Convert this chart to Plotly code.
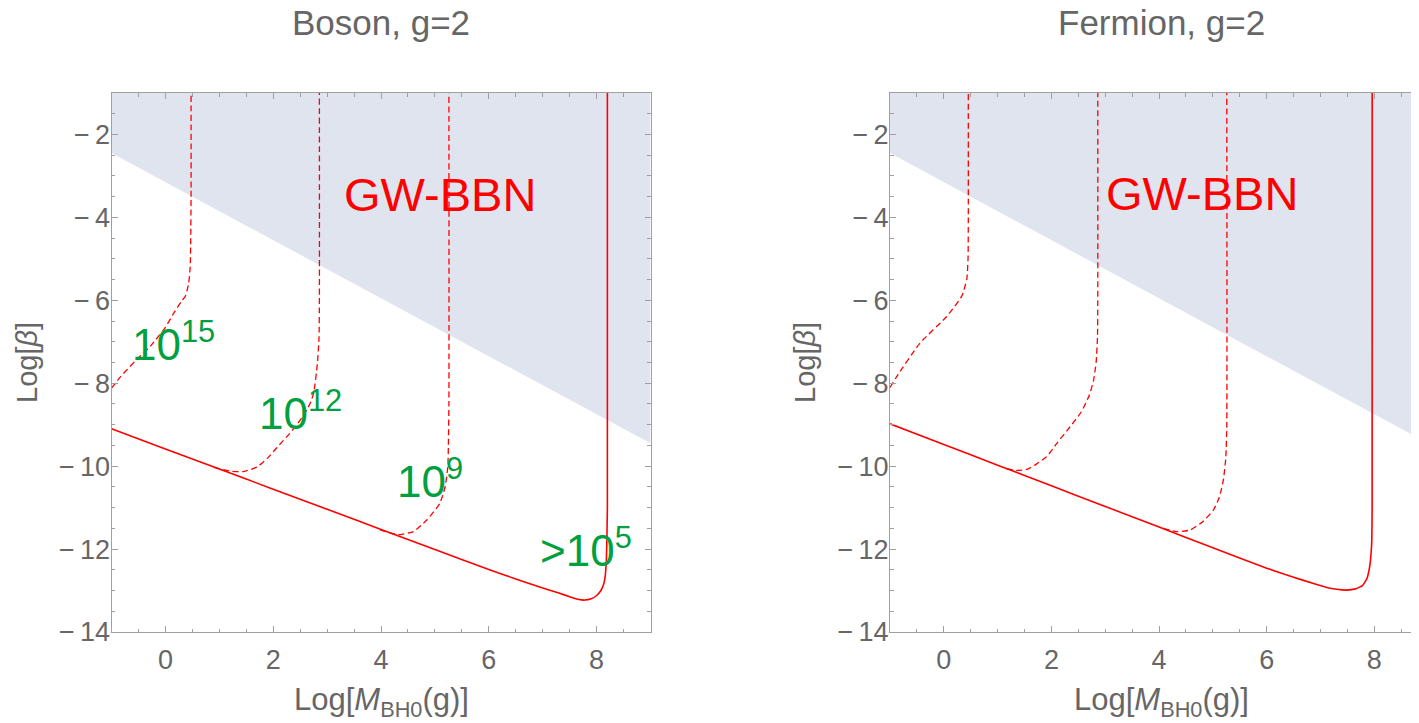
import plotly.graph_objects as go

# ---------------- data ----------------
panel_titles = ["Boson, g=2", "Fermion, g=2"]

# excluded GW-BBN region boundary (Log[M], Log[beta])
gw_x = [-1, 9]
gw_y = [-2.45, -9.45]
y_top = -1

# Boson, g=2
boson_solid_x = [-1, 0, 1, 2, 3, 4, 5, 6, 6.5, 7.0, 7.3, 7.5, 7.65, 7.78, 7.9, 8.0, 8.08, 8.13, 8.16, 8.18, 8.19, 8.2, 8.2]
boson_solid_y = [-9.1, -9.585, -10.07, -10.555, -11.04, -11.525, -12.01, -12.495, -12.72, -12.94, -13.06, -13.15,
                 -13.21, -13.23, -13.2, -13.12, -13.0, -12.85, -12.65, -12.3, -11.8, -11.0, -1]
boson_1e15_x = [-1, -0.83, -0.55, -0.28, 0.0, 0.154, 0.3, 0.37, 0.43, 0.46, 0.47, 0.476, 0.476]
boson_1e15_y = [-8.12, -7.84, -7.45, -7.11, -6.65, -6.31, -6.02, -5.9, -5.6, -5.2, -4.5, -3.5, -1]
boson_1e12_x = [0.9, 1.2, 1.45, 1.7, 1.9, 2.07, 2.3, 2.53, 2.68, 2.75, 2.82, 2.85, 2.857, 2.857]
boson_1e12_y = [-10.03, -10.12, -10.13, -10.02, -9.8, -9.55, -9.22, -8.84, -8.5, -8.24, -7.52, -6.9, -6.0, -1]
boson_1e9_x = [3.98, 4.2, 4.35, 4.6, 4.85, 5.09, 5.19, 5.24, 5.25, 5.26, 5.26]
boson_1e9_y = [-11.54, -11.62, -11.65, -11.58, -11.3, -10.9, -10.5, -10.0, -9.5, -8.5, -1]

# Fermion, g=2
fermion_solid_x = [-1, 0, 1, 2, 3, 4, 5, 6, 6.5, 6.87, 7.1, 7.3, 7.49, 7.65, 7.78, 7.86, 7.91, 7.94, 7.953, 7.959, 7.96]
fermion_solid_y = [-8.98, -9.478, -9.976, -10.474, -10.972, -11.47, -11.97, -12.46, -12.68, -12.83, -12.92, -12.97,
                   -12.99, -12.96, -12.88, -12.72, -12.45, -12.1, -11.78, -11.0, -1]
fermion_1e15_x = [-1, -0.875, -0.442, 0.054, 0.333, 0.426, 0.45, 0.455, 0.455]
fermion_1e15_y = [-8.1, -7.84, -7.03, -6.39, -5.9, -5.5, -5.0, -4.0, -1]
fermion_1e12_x = [1.169, 1.35, 1.541, 1.72, 1.913, 2.1, 2.346, 2.55, 2.7, 2.78, 2.83, 2.855, 2.861, 2.861]
fermion_1e12_y = [-10.06, -10.1, -10.08, -9.95, -9.77, -9.45, -9.05, -8.7, -8.3, -7.95, -7.5, -6.9, -6.0, -1]
fermion_1e9_x = [4.08, 4.329, 4.576, 4.8, 5.009, 5.12, 5.195, 5.24, 5.258, 5.258]
fermion_1e9_y = [-11.5, -11.58, -11.54, -11.35, -11.06, -10.75, -10.33, -9.8, -9.0, -1]

# labels
boson_labels = ["10<sup>15</sup>", "10<sup>12</sup>", "10<sup>9</sup>", ">10<sup>5</sup>"]
boson_label_x = [0.15, 2.5, 4.9, 7.81]
boson_label_y = [-7.0, -8.65, -10.3, -11.95]
gw_label = "GW-BBN"
gw_label_pos = [(5.1, -3.45), (4.8, -3.42)]

x_ranges = [[-1, 9], [-1, 8.83]]
y_range = [-14, -1]
x_tickvals = [0, 2, 4, 6, 8]
y_tickvals = [-14, -12, -10, -8, -6, -4, -2]

# ---------------- styling ----------------
RED = "#ff0000"
GREEN = "#00a040"
SHADE = "#dfe4ef"
FRAME = "#a0a0a0"
TXT = "#666666"
FONT = "Liberation Sans, Arial, sans-serif"
DASH = "6px,3.5px"

# page body has an 8px margin: work in screen pixels and shift
OFF = 8
W, H = 1419 - OFF, 723 - OFF
PLOT_TOP, PLOT_BOT = 93, 632          # screen px
PLOT_H = PLOT_BOT - PLOT_TOP


def px_x(sx):
    return (sx - OFF) / W


def px_y(sy):
    return (PLOT_BOT - sy) / PLOT_H


fig = go.Figure()


def add_panel(xa, ya, solid_x, solid_y, dashed):
    fig.add_trace(go.Scatter(
        x=[gw_x[0], gw_x[1], gw_x[1], gw_x[0]],
        y=[gw_y[0], gw_y[1], y_top, y_top],
        fill="toself", fillcolor=SHADE, mode="none",
        xaxis=xa, yaxis=ya, showlegend=False, hoverinfo="skip"))
    for dx, dy in dashed:
        fig.add_trace(go.Scatter(x=dx, y=dy, mode="lines",
                                 line=dict(color=RED, width=1.3, dash=DASH, shape="spline", smoothing=0.5),
                                 xaxis=xa, yaxis=ya, showlegend=False))
    fig.add_trace(go.Scatter(x=solid_x, y=solid_y, mode="lines",
                             line=dict(color=RED, width=1.6, shape="spline", smoothing=0.4),
                             xaxis=xa, yaxis=ya, showlegend=False))


add_panel("x", "y", boson_solid_x, boson_solid_y,
          [(boson_1e15_x, boson_1e15_y), (boson_1e12_x, boson_1e12_y), (boson_1e9_x, boson_1e9_y)])
add_panel("x2", "y2", fermion_solid_x, fermion_solid_y,
          [(fermion_1e15_x, fermion_1e15_y), (fermion_1e12_x, fermion_1e12_y), (fermion_1e9_x, fermion_1e9_y)])

L_DOM = [px_x(111.5), px_x(650.5)]
R_DOM = [px_x(890), 1.0]


def minus(v):
    return ("\u2212\u2009" + str(-v)) if v < 0 else str(v)


def xaxis(domain, rng, anchor):
    return dict(domain=domain, range=rng, anchor=anchor, showgrid=False, zeroline=False,
                showline=True, linecolor=FRAME, linewidth=1, mirror="allticks",
                ticks="inside", ticklen=6, tickcolor=FRAME, tickwidth=1,
                tickmode="array", tickvals=x_tickvals, ticktext=[minus(v) for v in x_tickvals],
                minor=dict(dtick=0.5, tick0=0, ticks="inside", ticklen=3.5, tickcolor=FRAME, tickwidth=1),
                tickfont=dict(family=FONT, size=27, color=TXT), ticklabelstandoff=4)


def yaxis(anchor, mirror):
    return dict(domain=[0, 1], range=y_range, anchor=anchor, showgrid=False, zeroline=False,
                showline=True, linecolor=FRAME, linewidth=1, mirror=mirror,
                ticks="inside", ticklen=6, tickcolor=FRAME, tickwidth=1,
                tickmode="array", tickvals=y_tickvals, ticktext=[minus(v) for v in y_tickvals],
                minor=dict(dtick=0.5, tick0=0, ticks="inside", ticklen=3.5, tickcolor=FRAME, tickwidth=1),
                tickfont=dict(family=FONT, size=27, color=TXT), ticklabelstandoff=-5)


annotations = []
title_cx = [381, 1161]
ytitle_cx = [27, 805]
for i, t in enumerate(panel_titles):
    annotations.append(dict(text=t, xref="paper", yref="paper",
                            x=px_x(title_cx[i]), y=px_y(22), xanchor="center", yanchor="middle",
                            showarrow=False, font=dict(family=FONT, size=35, color=TXT)))
    annotations.append(dict(text="Log[<i>M</i><sub>BH0</sub>(g)]", xref="paper", yref="paper",
                            x=px_x(title_cx[i]), y=px_y(702), xanchor="center", yanchor="middle",
                            showarrow=False, font=dict(family=FONT, size=31, color=TXT)))
    annotations.append(dict(text="Log[<i>\u03b2</i>]", xref="paper", yref="paper",
                            x=px_x(ytitle_cx[i]), y=px_y(363), xanchor="center", yanchor="middle",
                            textangle=-90, showarrow=False, font=dict(family=FONT, size=29, color=TXT)))

for i, (gx, gy) in enumerate(gw_label_pos):
    annotations.append(dict(text=gw_label, x=gx, y=gy, xref=["x", "x2"][i], yref=["y", "y2"][i],
                            showarrow=False, xanchor="center", yanchor="middle",
                            font=dict(family=FONT, size=47, color=RED)))

for lab, lx, ly in zip(boson_labels, boson_label_x, boson_label_y):
    annotations.append(dict(text=lab, x=lx, y=ly, xref="x", yref="y", showarrow=False,
                            xanchor="center", yanchor="middle",
                            font=dict(family=FONT, size=44, color=GREEN)))

fig.update_layout(
    width=W, height=H,
    margin=dict(l=0, r=0, t=PLOT_TOP - OFF, b=H - (PLOT_BOT - OFF), pad=0),
    paper_bgcolor="white", plot_bgcolor="white",
    xaxis=xaxis(L_DOM, x_ranges[0], "y"),
    yaxis=yaxis("x", "allticks"),
    xaxis2=xaxis(R_DOM, x_ranges[1], "y2"),
    yaxis2=yaxis("x2", False),
    annotations=annotations,
    showlegend=False,
)

fig.write_html("out.html")
